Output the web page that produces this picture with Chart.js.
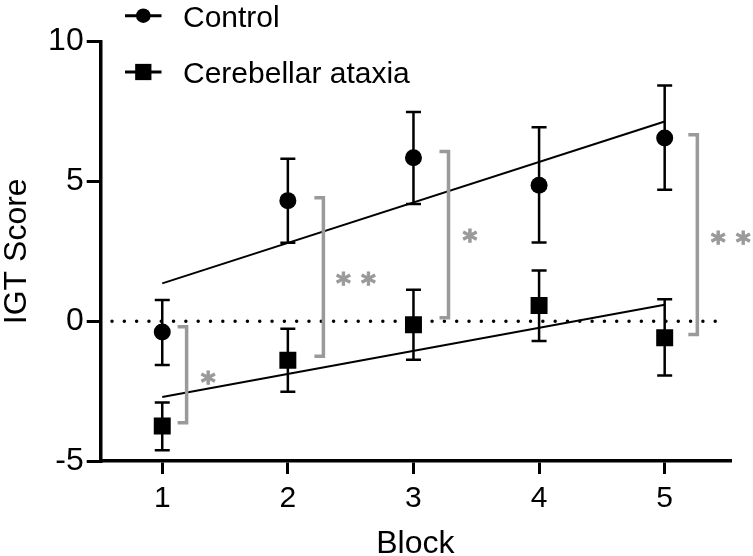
<!DOCTYPE html>
<html>
<head>
<meta charset="utf-8">
<script src="https://cdn.jsdelivr.net/npm/chart.js@4.4.1/dist/chart.umd.min.js"></script>
<style>
  html, body { margin: 0; padding: 0; background: #fff; }
  #wrap { width: 753px; height: 556px; }
</style>
</head>
<body>
<div id="wrap"><canvas id="igtChart"></canvas></div>
<script>
// values
const blocks = [1, 2, 3, 4, 5];
const controlMean = [-0.39, 4.31, 5.84, 4.86, 6.55];
const controlHigh = [0.76, 5.81, 7.48, 6.93, 8.43];
const controlLow = [-1.57, 2.80, 4.19, 2.81, 4.70];
const ataxiaMean = [-3.75, -1.40, -0.13, 0.56, -0.59];
const ataxiaHigh = [-2.91, -0.27, 1.12, 1.81, 0.78];
const ataxiaLow = [-4.62, -2.52, -1.38, -0.71, -1.94];

// regression lines, read at block 1 and block 5
const fitX = [1, 5];
const controlFit = [1.35, 7.14];
const ataxiaFit = [-2.71, 0.59];

// dotted zero reference line
const zeroX = [0.6, 5.43];
const zeroY = [0, 0];

const yTicks = [-5, 0, 5, 10];

// significance brackets
const sigX = [1.194, 2.283, 3.279, 5.26];
const sigTop = [-0.2, 4.41, 6.07, 6.67];
const sigBottom = [-3.63, -1.25, 0.12, -0.475];
const sigLabel = ['*', '**', '*', '**'];
const sigLabelX = [1.367, 2.543, 3.45, 5.526];
const sigLabelY = [-2.05, 1.49, 3.04, 2.98];

const FONT = "'Liberation Sans', Arial, Helvetica, sans-serif";
const STAR_FONT = "'DejaVu Sans', 'Liberation Sans', sans-serif";
const GRAY = '#9a9a9a';

const pts = (xs, ys) => xs.map((x, i) => ({ x: x, y: ys[i] }));

// error bars drawn from the high/low arrays
const errorBars = {
    id: 'errorBars',
    afterDatasetsDraw(chart) {
        const { ctx, scales: { x, y } } = chart;
        const sets = [[controlHigh, controlLow], [ataxiaHigh, ataxiaLow]];
        ctx.save();
        ctx.strokeStyle = '#000';
        ctx.lineWidth = 2.5;
        sets.forEach(([hi, lo]) => {
            blocks.forEach((b, i) => {
                const px = x.getPixelForValue(b);
                const top = y.getPixelForValue(hi[i]);
                const bot = y.getPixelForValue(lo[i]);
                ctx.beginPath();
                ctx.moveTo(px, top); ctx.lineTo(px, bot);
                ctx.moveTo(px - 7.5, top); ctx.lineTo(px + 7.5, top);
                ctx.moveTo(px - 7.5, bot); ctx.lineTo(px + 7.5, bot);
                ctx.stroke();
            });
        });
        ctx.restore();
    }
};

// grey brackets with asterisks
const sigBrackets = {
    id: 'sigBrackets',
    afterDraw(chart) {
        const { ctx, scales: { x, y } } = chart;
        ctx.save();
        ctx.strokeStyle = GRAY;
        ctx.fillStyle = GRAY;
        ctx.lineWidth = 3.5;
        sigX.forEach((sx, i) => {
            const px = x.getPixelForValue(sx);
            const top = y.getPixelForValue(sigTop[i]);
            const bot = y.getPixelForValue(sigBottom[i]);
            ctx.beginPath();
            ctx.moveTo(px - 9, top);
            ctx.lineTo(px, top);
            ctx.lineTo(px, bot);
            ctx.lineTo(px - 9, bot);
            ctx.stroke();
        });
        // size the asterisk so its glyph is about 15px tall
        ctx.font = 'bold 40px ' + STAR_FONT;
        let m = ctx.measureText('*');
        const size = 40 * 14.2 / (m.actualBoundingBoxAscent + m.actualBoundingBoxDescent);
        ctx.font = 'bold ' + size + 'px ' + STAR_FONT;
        m = ctx.measureText('*');
        ctx.textAlign = 'left';
        ctx.textBaseline = 'alphabetic';
        ctx.lineWidth = 1;
        sigLabel.forEach((lab, i) => {
            const cx = x.getPixelForValue(sigLabelX[i]);
            const cy = y.getPixelForValue(sigLabelY[i]);
            const n = lab.length;
            for (let k = 0; k < n; k++) {
                const sx = cx + (k - (n - 1) / 2) * 25;
                const tx = sx - (m.actualBoundingBoxRight - m.actualBoundingBoxLeft) / 2;
                const ty = cy + (m.actualBoundingBoxAscent - m.actualBoundingBoxDescent) / 2;
                ctx.fillText('*', tx, ty);
                ctx.strokeText('*', tx, ty);
            }
        });
        ctx.restore();
    }
};

// legend with a short line through the marker
const lineLegend = {
    id: 'lineLegend',
    afterDraw(chart) {
        const ctx = chart.ctx;
        const rows = [
            { ds: chart.data.datasets[0], y: 15.7, base: 26.5 },
            { ds: chart.data.datasets[1], y: 72, base: 83.3 }
        ];
        ctx.save();
        rows.forEach(r => {
            ctx.strokeStyle = '#000';
            ctx.lineWidth = 3;
            ctx.beginPath();
            ctx.moveTo(125, r.y); ctx.lineTo(161.5, r.y);
            ctx.stroke();
            ctx.fillStyle = '#000';
            Chart.helpers.drawPoint(ctx, {
                pointStyle: r.ds.pointStyle,
                radius: r.ds.pointStyle === 'rect' ? 11.5 : 7.3,
                borderWidth: 0
            }, 143.3, r.y);
            ctx.fillStyle = '#000';
            ctx.font = '30px ' + FONT;
            ctx.textAlign = 'left';
            ctx.textBaseline = 'alphabetic';
            ctx.fillText(r.ds.label, 183, r.base);
        });
        ctx.restore();
    }
};

const ctx = document.getElementById('igtChart').getContext('2d');
new Chart(ctx, {
    type: 'line',
    data: {
        datasets: [
            {
                label: 'Control',
                data: pts(blocks, controlMean),
                showLine: false,
                pointStyle: 'circle',
                pointRadius: 8.5,
                pointBackgroundColor: '#000',
                pointBorderWidth: 0
            },
            {
                label: 'Cerebellar ataxia',
                data: pts(blocks, ataxiaMean),
                showLine: false,
                pointStyle: 'rect',
                pointRadius: 12,
                pointBackgroundColor: '#000',
                pointBorderWidth: 0
            },
            {
                label: 'Control fit',
                data: pts(fitX, controlFit),
                borderColor: '#000',
                borderWidth: 2,
                pointRadius: 0
            },
            {
                label: 'Ataxia fit',
                data: pts(fitX, ataxiaFit),
                borderColor: '#000',
                borderWidth: 2,
                pointRadius: 0
            },
            {
                label: 'zero',
                data: pts(zeroX, zeroY),
                borderColor: '#000',
                borderWidth: 3.5,
                borderDash: [0.01, 12.3],
                borderCapStyle: 'round',
                pointRadius: 0
            }
        ]
    },
    options: {
        responsive: true,
        maintainAspectRatio: false,
        animation: false,
        layout: { padding: { top: 41.5, right: 23, left: 0, bottom: 0 } },
        plugins: {
            legend: { display: false },
            tooltip: { enabled: false }
        },
        scales: {
            x: {
                type: 'linear',
                min: 0.51,
                max: 5.52,
                afterBuildTicks: s => { s.ticks = blocks.map(v => ({ value: v })); },
                afterFit: s => { s.height = 95; },
                grid: { drawOnChartArea: false, drawTicks: true, tickLength: 13, color: '#000', lineWidth: 3 },
                border: { color: '#000', width: 3.5 },
                ticks: { color: '#000', font: { family: FONT, size: 30 }, padding: 7, maxRotation: 0 },
                title: { display: true, text: 'Block', color: '#000', font: { family: FONT, size: 32, lineHeight: 0.72 }, padding: 0 }
            },
            y: {
                type: 'linear',
                min: -5,
                max: 10,
                afterBuildTicks: s => { s.ticks = yTicks.map(v => ({ value: v })); },
                afterFit: s => { s.width = 100.7; },
                grid: { drawOnChartArea: false, drawTicks: true, tickLength: 14, color: '#000', lineWidth: 3 },
                border: { color: '#000', width: 3.5 },
                ticks: { color: '#000', font: { family: FONT, size: 32 }, padding: 3 },
                title: { display: true, text: 'IGT Score', color: '#000', font: { family: FONT, size: 32, lineHeight: 1.1 }, padding: 0 }
            }
        }
    },
    plugins: [errorBars, sigBrackets, lineLegend]
});
</script>
</body>
</html>
